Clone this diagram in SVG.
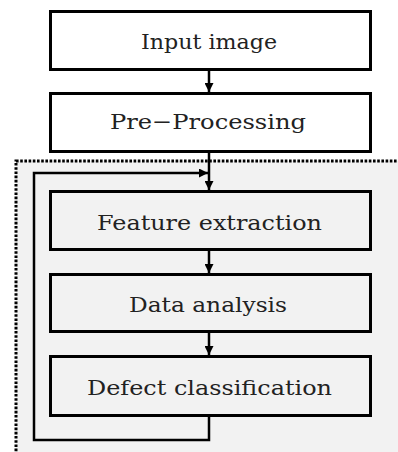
<svg xmlns="http://www.w3.org/2000/svg" width="398" height="452" viewBox="0 0 398 452">
<style>
.box{stroke:#000;stroke-width:3;}
.w{fill:#fff;}
.g{fill:#f2f2f2;}
.t{font-family:"DejaVu Serif","Liberation Serif",serif;font-size:21px;fill:#222;text-anchor:middle;}
.c{stroke:#000;stroke-width:2.5;fill:none;}
</style>
<defs>
<marker id="ah" markerWidth="9" markerHeight="9" refX="9" refY="4.5" orient="auto" markerUnits="userSpaceOnUse">
<path d="M0,0 L9,4.5 L0,9 Z" fill="#000"/>
</marker>
</defs>
<rect x="0" y="0" width="398" height="452" fill="#fff"/>
<rect id="region" x="16" y="161" width="400" height="310" fill="#f2f2f2" stroke="#000" stroke-width="3" stroke-dasharray="2.6 1.6"/>
<g id="n1"><rect class="box w" x="50.5" y="11.5" width="320" height="58"/><text class="t" x="209" y="49" textLength="136" lengthAdjust="spacingAndGlyphs">Input image</text></g>
<g id="n2"><rect class="box w" x="50.5" y="93.5" width="320" height="58"/><text class="t" x="208" y="129" textLength="196" lengthAdjust="spacingAndGlyphs">Pre−Processing</text></g>
<g id="n3"><rect class="box g" x="50.5" y="191.5" width="320" height="58"/><text class="t" x="209.5" y="230" textLength="225" lengthAdjust="spacingAndGlyphs">Feature extraction</text></g>
<g id="n4"><rect class="box g" x="50.5" y="274.5" width="320" height="57"/><text class="t" x="208" y="312" textLength="158" lengthAdjust="spacingAndGlyphs">Data analysis</text></g>
<g id="n5"><rect class="box g" x="50.5" y="356.5" width="320" height="59"/><text class="t" x="209.5" y="395" textLength="245" lengthAdjust="spacingAndGlyphs">Defect classification</text></g>
<g id="connectors">
<line class="c" x1="209" y1="71" x2="209" y2="92" marker-end="url(#ah)"/>
<line class="c" x1="209" y1="153" x2="209" y2="190" marker-end="url(#ah)"/>
<line class="c" x1="209" y1="251" x2="209" y2="273" marker-end="url(#ah)"/>
<line class="c" x1="209" y1="333" x2="209" y2="355" marker-end="url(#ah)"/>
<polyline class="c" points="209,417 209,440 34,440 34,173 208,173" stroke-width="3" marker-end="url(#ah)"/>
</g>
</svg>
